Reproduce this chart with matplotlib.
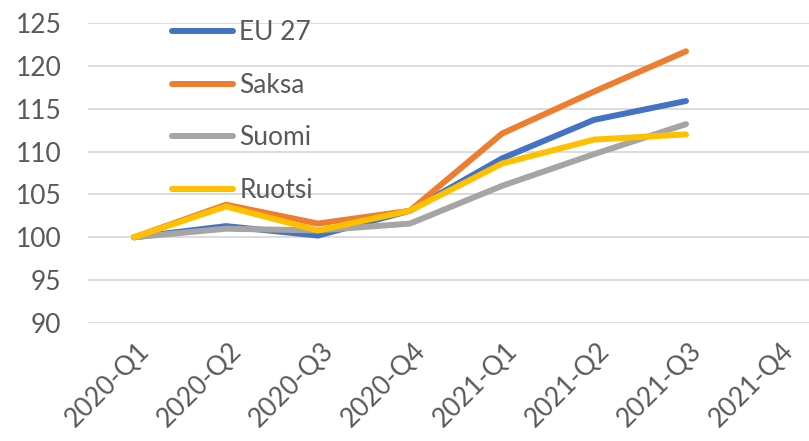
import matplotlib.pyplot as plt
from matplotlib.transforms import ScaledTranslation

# kvartaalit ja indeksit (2020-Q1 = 100)
quarters = ['2020-Q1', '2020-Q2', '2020-Q3', '2020-Q4',
            '2021-Q1', '2021-Q2', '2021-Q3', '2021-Q4']
eu27 = [100, 101.3, 100.2, 103.1, 109.2, 113.7, 115.9]
saksa = [100, 103.8, 101.6, 103.1, 112.1, 117.0, 121.7]
suomi = [100, 101.0, 100.8, 101.6, 106.0, 109.7, 113.2]
ruotsi = [100, 103.6, 100.8, 103.1, 108.6, 111.4, 112.0]

series = [('EU 27', eu27, '#4472C4'),
          ('Saksa', saksa, '#ED7D31'),
          ('Suomi', suomi, '#A5A5A5'),
          ('Ruotsi', ruotsi, '#FFC000')]

plt.rcParams['font.family'] = ['Lato', 'DejaVu Sans']
text_color = '#595959'

fig = plt.figure(figsize=(8.09, 4.41), dpi=100)
ax = fig.add_axes([88 / 809, 1 - 323 / 441, 736 / 809, 300 / 441])

for name, vals, color in series:
    ax.plot(range(len(vals)), vals, color=color, lw=4.3,
            solid_capstyle='round', solid_joinstyle='round', label=name)

ax.set_xlim(-0.5, len(quarters) - 0.5)
ax.set_ylim(90, 125)
ax.set_yticks(range(90, 126, 5))
ax.set_xticks(range(len(quarters)))
ax.set_xticklabels(quarters, rotation=45, ha='right', rotation_mode='anchor')
ax.tick_params(length=0, labelsize=19, colors=text_color)
ax.tick_params(axis='x', pad=8)
ax.tick_params(axis='y', pad=19)
# pieni siirto kulmassa oleviin teksteihin
shift = ScaledTranslation(3 / 100, -4 / 100, fig.dpi_scale_trans)
for lbl in ax.get_xticklabels():
    lbl.set_transform(lbl.get_transform() + shift)
ax.grid(axis='y', color='#D9D9D9', lw=1.3)
ax.set_axisbelow(True)
for s in ax.spines.values():
    s.set_visible(False)

leg = ax.legend(loc='upper left', bbox_to_anchor=(0.1, 1.045), frameon=False,
                fontsize=19, handlelength=2.3, handletextpad=0.25,
                labelspacing=1.05, borderaxespad=0)
for t in leg.get_texts():
    t.set_color(text_color)

fig.savefig('out.png', dpi=100)
